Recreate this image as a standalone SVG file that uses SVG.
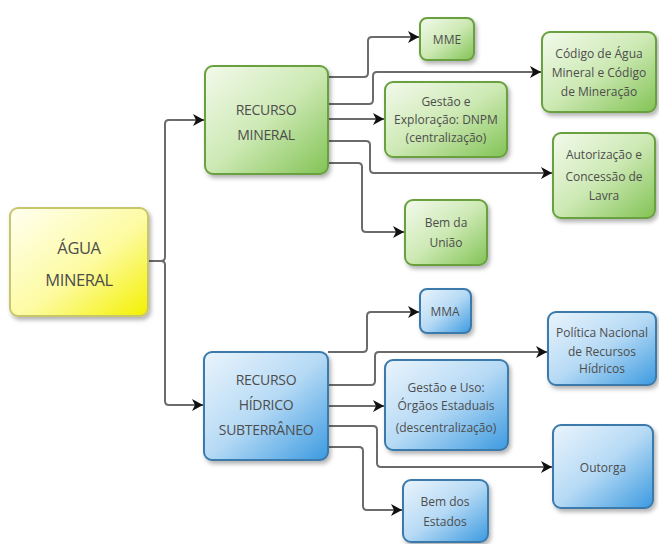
<svg xmlns="http://www.w3.org/2000/svg" width="659" height="544" viewBox="0 0 659 544">
<style>
.box{stroke-width:2}
.g{fill:url(#gg);stroke:#69a03f}
.b{fill:url(#bg);stroke:#3a7aab}
.y{fill:url(#yg);stroke:#c8c66a}
text{font-family:"Open Sans","Noto Sans","Liberation Sans",sans-serif;fill:#4d4d4d;text-anchor:middle}
.t{font-size:12px}
.c{font-size:14px;letter-spacing:-0.3px}
.big{font-size:16.5px;letter-spacing:-0.4px}
.con{fill:none;stroke:#6b6b6b;stroke-width:2}
</style>
<defs>
<linearGradient id="gg" x1="0" y1="0" x2="1" y2="1">
<stop offset="0" stop-color="#f3faec"/>
<stop offset="0.5" stop-color="#cde9b4"/>
<stop offset="1" stop-color="#82c355"/>
</linearGradient>
<linearGradient id="bg" x1="0" y1="0" x2="1" y2="1">
<stop offset="0" stop-color="#eaf4fc"/>
<stop offset="0.5" stop-color="#b6daf5"/>
<stop offset="1" stop-color="#3b9ae0"/>
</linearGradient>
<linearGradient id="yg" x1="0" y1="0" x2="1" y2="1">
<stop offset="0" stop-color="#fffff2"/>
<stop offset="0.55" stop-color="#fdfba0"/>
<stop offset="1" stop-color="#f3f000"/>
</linearGradient>
<filter id="sh" x="-10%" y="-10%" width="130%" height="130%">
<feDropShadow dx="2" dy="3" stdDeviation="2" flood-color="#000" flood-opacity="0.3"/>
</filter>
<marker id="ar" markerUnits="userSpaceOnUse" markerWidth="12" markerHeight="12" viewBox="0 0 12 12" refX="11" refY="6" orient="auto">
<path d="M0,0 L11,6 L0,12 L3,6 Z" fill="#111"/>
</marker>
</defs>

<g id="connectors">
<path class="con" d="M148,261 H161 Q165,261 165,257 V124 Q165,120 169,120 H204" marker-end="url(#ar)"/>
<path class="con" d="M148,261 H161 Q165,261 165,265 V401 Q165,405 169,405 H203" marker-end="url(#ar)"/>
<path class="con" d="M328,77 H364 Q368,77 368,73 V41 Q368,37 372,37 H419" marker-end="url(#ar)"/>
<path class="con" d="M328,104 H369 Q373,104 373,100 V76 Q373,72 377,72 H541" marker-end="url(#ar)"/>
<path class="con" d="M328,119 H384" marker-end="url(#ar)"/>
<path class="con" d="M328,141 H366 Q370,141 370,145 V169 Q370,173 374,173 H552" marker-end="url(#ar)"/>
<path class="con" d="M328,163 H358 Q362,163 362,167 V228 Q362,232 366,232 H404" marker-end="url(#ar)"/>
<path class="con" d="M328,352 H363 Q367,352 367,348 V316 Q367,312 371,312 H419" marker-end="url(#ar)"/>
<path class="con" d="M328,385 H371 Q375,385 375,381 V356 Q375,352 379,352 H547" marker-end="url(#ar)"/>
<path class="con" d="M328,406 H384" marker-end="url(#ar)"/>
<path class="con" d="M328,426 H373 Q377,426 377,430 V463 Q377,467 381,467 H552" marker-end="url(#ar)"/>
<path class="con" d="M328,447 H359 Q363,447 363,451 V506 Q363,510 367,510 H402" marker-end="url(#ar)"/>
</g>

<g id="agua">
<rect class="box y" x="10" y="208" width="138" height="108" rx="8" filter="url(#sh)"/>
<text class="big" x="79" y="254">ÁGUA</text>
<text class="big" x="79" y="286">MINERAL</text>
</g>

<g id="recurso-mineral">
<rect class="box g" x="205" y="66" width="123" height="108" rx="8" filter="url(#sh)"/>
<text class="c" x="266" y="115">RECURSO</text>
<text class="c" x="266" y="140">MINERAL</text>
</g>

<g id="mme">
<rect class="box g" x="420" y="18" width="54" height="42" rx="7" filter="url(#sh)"/>
<text class="t" x="447" y="44">MME</text>
</g>

<g id="codigo">
<rect class="box g" x="542" y="32" width="114" height="80" rx="8" filter="url(#sh)"/>
<text class="t" x="599" y="58">Código de Água</text>
<text class="t" x="599" y="77">Mineral e Código</text>
<text class="t" x="599" y="96">de Mineração</text>
</g>

<g id="gestao-mineral">
<rect class="box g" x="385" y="82" width="122" height="75" rx="8" filter="url(#sh)"/>
<text class="t" x="446" y="106">Gestão e</text>
<text class="t" x="446" y="124">Exploração: DNPM</text>
<text class="t" x="446" y="142">(centralização)</text>
</g>

<g id="autorizacao">
<rect class="box g" x="553" y="133" width="102" height="85" rx="8" filter="url(#sh)"/>
<text class="t" x="604" y="159">Autorização e</text>
<text class="t" x="604" y="181">Concessão de</text>
<text class="t" x="604" y="200">Lavra</text>
</g>

<g id="bem-uniao">
<rect class="box g" x="405" y="200" width="82" height="65" rx="8" filter="url(#sh)"/>
<text class="t" x="446" y="227">Bem da</text>
<text class="t" x="446" y="247">União</text>
</g>

<g id="recurso-hidrico">
<rect class="box b" x="204" y="352" width="124" height="108" rx="8" filter="url(#sh)"/>
<text class="c" x="266" y="385">RECURSO</text>
<text class="c" x="266" y="410">HÍDRICO</text>
<text class="c" x="266" y="435">SUBTERRÂNEO</text>
</g>

<g id="mma">
<rect class="box b" x="420" y="289" width="51" height="44" rx="7" filter="url(#sh)"/>
<text class="t" x="445" y="316">MMA</text>
</g>

<g id="politica">
<rect class="box b" x="548" y="312" width="108" height="73" rx="8" filter="url(#sh)"/>
<text class="t" x="602" y="337">Política Nacional</text>
<text class="t" x="602" y="356">de Recursos</text>
<text class="t" x="602" y="373">Hídricos</text>
</g>

<g id="gestao-uso">
<rect class="box b" x="385" y="360" width="123" height="90" rx="8" filter="url(#sh)"/>
<text class="t" x="446" y="392">Gestão e Uso:</text>
<text class="t" x="446" y="410">Órgãos Estaduais</text>
<text class="t" x="446" y="432">(descentralização)</text>
</g>

<g id="outorga">
<rect class="box b" x="553" y="425" width="100" height="83" rx="8" filter="url(#sh)"/>
<text class="t" x="603" y="472">Outorga</text>
</g>

<g id="bem-estados">
<rect class="box b" x="403" y="480" width="85" height="62" rx="8" filter="url(#sh)"/>
<text class="t" x="445" y="506">Bem dos</text>
<text class="t" x="445" y="526">Estados</text>
</g>
</svg>
